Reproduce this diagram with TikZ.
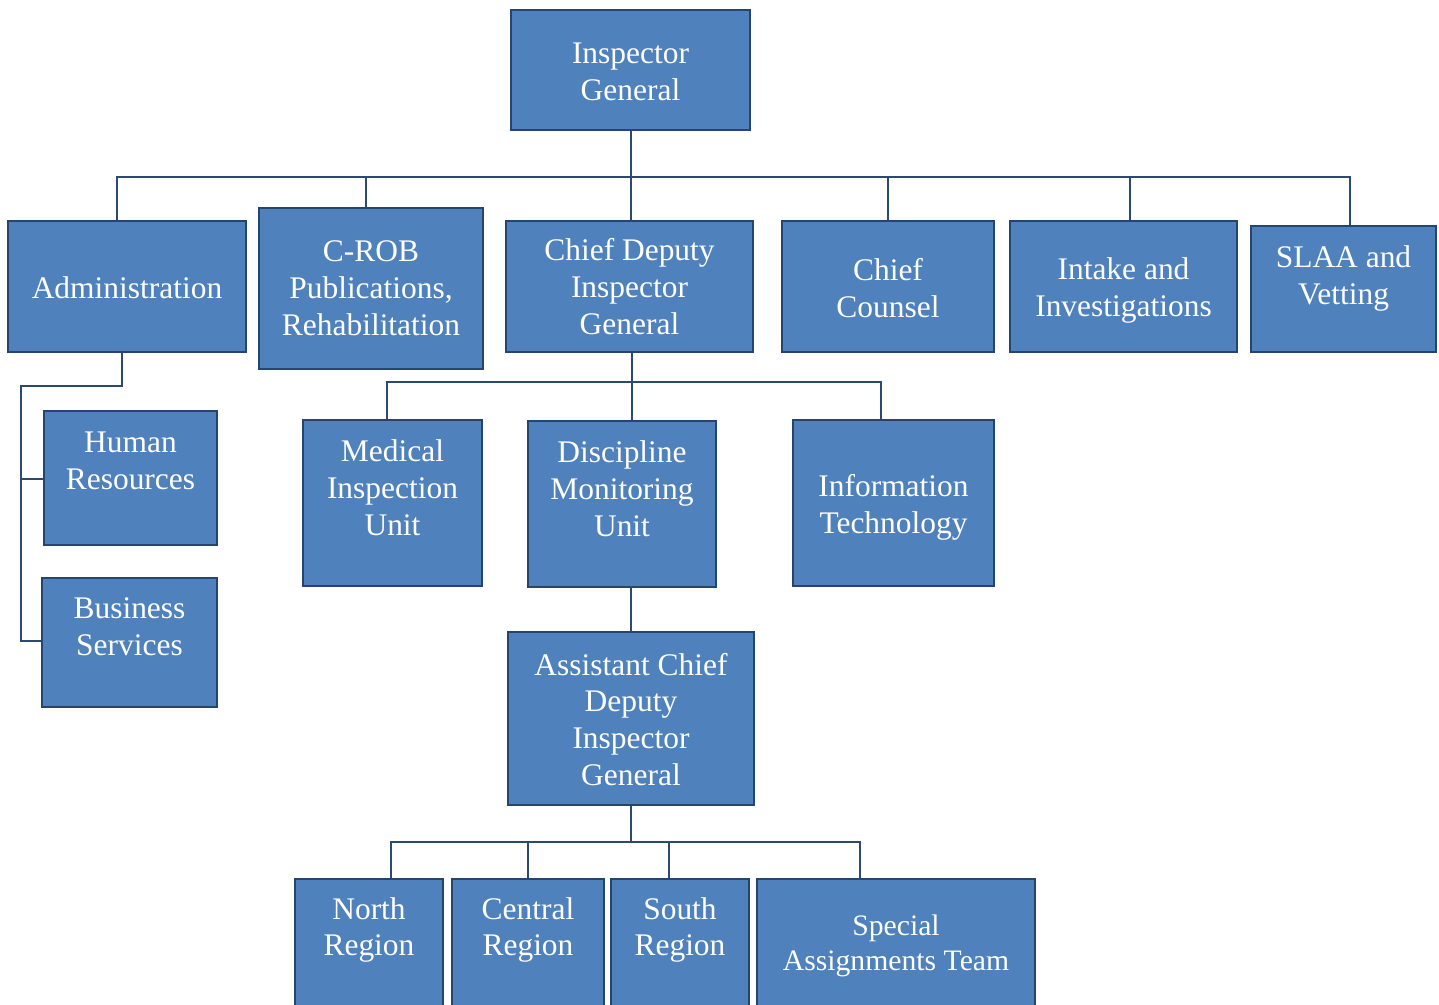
\documentclass[tikz,border=0pt]{standalone}
\usepackage{fontspec}
\setmainfont{Liberation Serif}
\usetikzlibrary{positioning, fit, calc}

\definecolor{boxfill}{HTML}{4F81BD}
\definecolor{boxline}{HTML}{26456E}
\definecolor{linkcol}{HTML}{2C4A6F}

\tikzset{
  box/.style={draw=boxline, fill=boxfill, line width=1.1pt, inner sep=0pt},
  txt/.style={text=white, align=center, inner sep=0pt, font=\fontsize{17.9}{21}\selectfont},
  link/.style={draw=linkcol, line width=1pt}
}

\begin{document}
\begin{tikzpicture}[x=0.02cm, y=-0.02cm]
        \useasboundingbox (0,0) rectangle (1439,1004);

        % Top level
        \node[box, fit={(511,10) (750,130)}] (ig) {};
        \node[txt, yshift=-0.03cm] (igt) at (ig.center) {Inspector\\General};

        % Second row
        \node[box, fit={(8,221) (246,352)}] (adm) {};
        \node[txt, yshift=-0.02cm] (admt) at (adm.center) {Administration};
        \node[box, fit={(259,208) (483,369)}] (crob) {};
        \node[txt] (crobt) at (crob.center) {C-ROB\\Publications,\\Rehabilitation};
        \node[box, fit={(506,221) (753,352)}] (cdig) {};
        \node[txt] (cdigt) at (cdig.center) {Chief Deputy\\Inspector\\General};
        \node[box, fit={(782,221) (994,352)}] (cc) {};
        \node[txt, yshift=-0.03cm] (cct) at (cc.center) {Chief\\Counsel};
        \node[box, fit={(1010,221) (1237,352)}] (inv) {};
        \node[txt, yshift=-0.08cm] (invt) at (inv.center) {Intake and\\Investigations};
        \node[box, fit={(1251,226) (1436,352)}] (slaa) {};
        \node[txt, yshift=0.21cm] (slaat) at (slaa.center) {SLAA and\\Vetting};

        % Administration units
        \node[box, fit={(44,411) (217,545)}] (hr) {};
        \node[txt, yshift=0.34cm] (hrt) at (hr.center) {Human\\Resources};
        \node[box, fit={(42,578) (217,707)}] (bs) {};
        \node[txt, yshift=0.31cm] (bst) at (bs.center) {Business\\Services};

        % Chief Deputy units
        \node[box, fit={(303,420) (482,586)}] (miu) {};
        \node[txt, yshift=0.3cm] (miut) at (miu.center) {Medical\\Inspection\\Unit};
        \node[box, fit={(528,421) (716,587)}] (dmu) {};
        \node[txt, yshift=0.3cm] (dmut) at (dmu.center) {Discipline\\Monitoring\\Unit};
        \node[box, fit={(793,420) (994,586)}] (it) {};
        \node[txt, yshift=-0.08cm] (itt) at (it.center) {Information\\Technology};

        % Assistant Chief Deputy
        \node[box, fit={(508,632) (754,805)}] (acdig) {};
        \node[txt, yshift=-0.02cm] (acdigt) at (acdig.center) {Assistant Chief\\Deputy\\Inspector\\General};

        % Regions
        \node[box, fit={(295,879) (443,1024)}] (nor) {};
        \node[txt] (nort) at (369,930) {North\\Region};
        \node[box, fit={(452,879) (604,1024)}] (cen) {};
        \node[txt] (cent) at (528,930) {Central\\Region};
        \node[box, fit={(611,879) (749,1024)}] (sou) {};
        \node[txt] (sout) at (680,930) {South\\Region};
        \node[box, fit={(757,879) (1035,1024)}] (sat) {};
        \node[txt, font=\fontsize{16.9}{19.8}\selectfont] (satt) at (896,946) {Special\\Assignments Team};

        % Connectors
        \coordinate (main) at (631,177);
        \coordinate (sub) at (632,382);
        \coordinate (reg) at (631,842);
        \draw[link] ([xshift=0.01cm]ig.south) -- ([xshift=0.01cm]ig.south |- cdig.north);
        \draw[link] ([xshift=-2mm]adm.north) |- (main) -| ([xshift=1.3mm]slaa.north);
        \draw[link] ([xshift=-1mm]crob.north) -- ([xshift=-1mm]crob.north |- main);
        \draw[link] (cc.north) -- (cc.north |- main);
        \draw[link] ([xshift=1.3mm]inv.north) -- ([xshift=1.3mm]inv.north |- main);

        \draw[link] ([xshift=-1mm]adm.south) -- ++(0,33) -| (21,641) -- (bs.west |- 21,641);
        \draw[link] (21,479) -- (hr.west |- 21,479);

        \draw[link] ([xshift=-1.1mm]miu.north) |- (sub) -| ([xshift=-2.5mm]it.north);
        \draw[link] ([xshift=2mm]dmu.north) -- ([xshift=2mm]dmu.north |- cdig.south);
        \draw[link] (dmu.south -| acdig.north) -- (acdig.north);

        \draw[link] (acdig.south) -- (reg);
        \draw[link] ([xshift=4.4mm]nor.north) |- (reg) -| ([xshift=-7.2mm]sat.north);
        \draw[link] (cen.north) -- (cen.north |- reg);
        \draw[link] ([xshift=-2.2mm]sou.north) -- ([xshift=-2.2mm]sou.north |- reg);
\end{tikzpicture}
\end{document}
